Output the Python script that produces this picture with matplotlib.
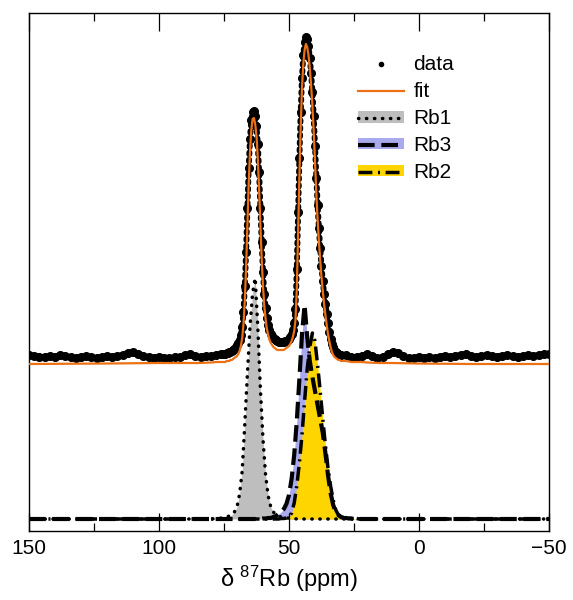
import numpy as np
import matplotlib
matplotlib.use('Agg')
import matplotlib.pyplot as plt
from matplotlib.lines import Line2D
from matplotlib.patches import Patch

plt.rcParams['font.family'] = ['Liberation Sans', 'DejaVu Sans']
plt.rcParams['mathtext.default'] = 'regular'

# shift axes (ppm), finer sampling over the two peaks
peak_ppm = np.arange(75, 29.9, -0.5)
data_ppm = np.concatenate([np.arange(150, 75, -2), peak_ppm, np.arange(28, -50.1, -2)])
fit_ppm = np.concatenate([[150, 120, 100, 90, 85, 80, 78, 76], peak_ppm,
                          [28, 26, 24, 22, 20, 15, 10, 0, -20, -50]])
comp_ppm = np.concatenate([[150, 100, 90, 80], np.arange(78, 21.5, -1), [20, 10, 0, -50]])

data = np.array([
    9, 8, 7, 7, 8, 7, 9, 8, 7, 6, 7, 8, 7, 6, 7, 8, 7, 8, 9, 11,
    12, 10, 8, 7, 6, 7, 6, 6, 7, 7, 9, 10, 8, 7, 8, 8, 9, 10,
    # 75 -> 30 ppm
    10, 10, 11, 11, 12, 12, 13, 14, 15, 17,
    19, 21, 24, 29, 37, 52, 78, 112, 156, 196,
    225, 244, 252, 253, 248, 238, 220, 192, 156, 122,
    92, 70, 56, 46, 39, 34, 30, 28, 26, 25,
    24, 23, 22, 22, 22, 22, 22, 23, 23, 24,
    25, 27, 30, 34, 41, 55, 95, 152, 206, 252,
    286, 309, 322, 327, 325, 318, 306, 291, 272, 248,
    218, 186, 159, 136, 116, 98, 83, 70, 60, 50,
    41, 32, 25, 20, 17, 14, 12, 11, 10, 9,
    9,
    # 28 -> -50 ppm
    9, 7, 7, 8, 10, 8, 6, 7, 10, 12, 11, 8, 6, 6, 7, 6, 7, 6, 7, 8,
    7, 8, 9, 10, 8, 7, 8, 9, 8, 7, 8, 9, 8, 7, 8, 9, 8, 9, 10, 10])

fit = np.array([
    0, 0.5, 1, 1, 1, 1.5, 2, 2,
    2, 2, 3, 3, 3, 4, 4, 5, 6, 7,
    8, 10, 13, 18, 26, 40, 63, 96, 138, 180,
    212, 234, 245, 246, 240, 228, 206, 175, 139, 105,
    78, 58, 45, 35, 29, 24, 21, 19, 17, 16,
    15, 14, 14, 14, 14, 14, 14, 15, 16, 17,
    18, 20, 23, 27, 33, 44, 75, 130, 187, 237,
    276, 300, 314, 320, 317, 309, 296, 279, 259, 233,
    203, 171, 145, 123, 104, 87, 73, 60, 49, 39,
    30, 23, 17, 12, 9, 7, 6, 5, 4, 4,
    3,
    3, 2, 2, 2, 1.5, 1, 1, 0.5, 0, 0])

rb1 = np.array([0] * 4 + [0.5, 0.5, 1, 1, 2, 3, 4, 7, 12, 25, 48, 95, 145, 192, 226, 241,
                          192, 130, 80, 44, 23, 12, 7, 4, 3, 2, 1.5, 1, 1, 0.5, 0.5]
               + [0] * 26 + [0] * 4)
rb3 = np.array([0] * 4 + [0] * 18
               + [0.5, 0.5, 1, 1, 2, 3, 5, 7, 10, 15, 24, 40, 64, 98, 140, 185, 214,
                  182, 158, 142, 128, 114, 100, 86, 66, 44, 26, 14, 7, 4, 2, 1, 1,
                  0.5, 0.5, 0, 0, 0, 0] + [0] * 4)
rb2 = np.array([0] * 4 + [0] * 25
               + [0.5, 0.5, 1, 2, 6, 16, 33, 56, 84, 118, 150, 172, 186, 178, 154,
                  128, 100, 74, 51, 33, 19, 9, 4, 2, 1.5, 1, 1, 0.5, 0.5, 0.5, 0, 0]
               + [0] * 4)

offset = 155  # spectrum + fit shifted above the components
fit_color = '#ec7014'

fig = plt.figure(figsize=(5.73, 6.0), dpi=100)
ax = fig.add_axes([0.0506, 0.115, 0.9075, 0.8633])

comps = [
    (rb1, '#bebebe', (0, (0.1, 2.2)), 2.5, 'round'),
    (rb3, '#a9a9ee', (0, (4, 1.6)), 3.0, 'butt'),
    (rb2, '#ffd500', (0, (4, 1.6, 0.6, 1.6)), 2.5, 'butt'),
]
for vals, fc, ls, lw, cap in comps:
    ax.fill_between(comp_ppm, 0, vals, color=fc, lw=0, zorder=1)
for vals, fc, ls, lw, cap in comps:
    ax.plot(comp_ppm, vals, color='k', ls=ls, lw=lw, dash_capstyle=cap, zorder=2)

# data: dense dots along the trace + the sampled points
ax.plot(data_ppm, data + offset, color='k', ls=(0, (0.3, 0.9)), lw=4.3,
        dash_capstyle='round', zorder=3)
ax.plot(data_ppm, data + offset, 'o', ms=5.5, color='k', ls='none', zorder=3)
ax.plot(fit_ppm, fit + offset, color=fit_color, lw=1.6, zorder=4)

handles = [
    Line2D([], [], marker='o', ms=3, color='k', ls='none'),
    Line2D([], [], color=fit_color, lw=1.6),
]
for vals, fc, ls, lw, cap in comps:
    handles.append((Patch(facecolor=fc, lw=0),
                    Line2D([], [], color='k', ls=ls, lw=lw, dash_capstyle=cap)))
ax.legend(handles, ['data', 'fit', 'Rb1', 'Rb3', 'Rb2'], loc='upper left',
          bbox_to_anchor=(0.633, 0.918), frameon=False, fontsize=15,
          handlelength=2.2, handletextpad=0.45, labelspacing=0.38,
          borderpad=0, borderaxespad=0, handleheight=0.45)

ax.set_xlim(150, -50)
ax.set_ylim(-12, 506)
ax.set_xticks([150, 100, 50, 0, -50])
ax.set_xticks([125, 75, 25, -25], minor=True)
ax.set_yticks([])
ax.tick_params(axis='x', which='both', direction='in', top=True, bottom=True,
               labelsize=15, pad=6, width=0.9)
ax.tick_params(axis='x', which='major', length=13)
ax.tick_params(axis='x', which='minor', length=6)
for s in ax.spines.values():
    s.set_linewidth(1.0)
ax.set_xlabel(r'δ $^{87}$Rb (ppm)', fontsize=17, labelpad=4)

fig.savefig('out.png', dpi=100)
